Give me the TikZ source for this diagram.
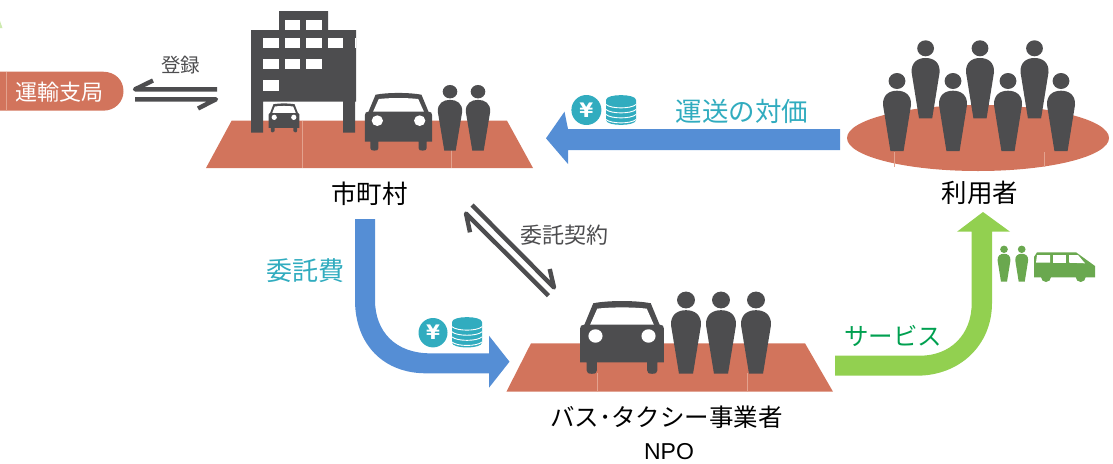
\documentclass[tikz,border=0pt]{standalone}
\usepackage{fontspec}
\setmainfont{Noto Sans CJK JP}
\newfontfamily\latinfont{Liberation Sans}
\newfontfamily\yenfont{DejaVu Sans}
\definecolor{plat}{HTML}{D2745C}
\definecolor{seam}{HTML}{E3A28E}
\definecolor{dark}{HTML}{4D4D4F}
\definecolor{blueA}{HTML}{558ED5}
\definecolor{teal}{HTML}{31ACBF}
\definecolor{greenA}{HTML}{92D050}
\definecolor{greenB}{HTML}{6AA84F}
\definecolor{greenT}{HTML}{00A050}
\newcommand{\fs}[1]{\fontsize{#1}{#1}\selectfont}
\tikzset{
  x=1pt,y=-1pt,
  lbl/.style={inner sep=0pt,text=black,font=\fs{25.5}},
  tealtext/.style={inner sep=0pt,text=teal,font=\fs{25.5}},
  greytext/.style={inner sep=0pt,text=dark,font=\fs{22}},
  seamline/.style={draw=seam,line width=1pt},
  halfarrow/.style={draw=dark,line width=4.4pt,line join=round},
  yenmark/.style={inner sep=0pt,text=white,font=\yenfont\bfseries\fs{20}},
  person/.pic={
    \fill[pic actions] (0,0) ellipse[x radius=8.4,y radius=8];
    \fill[pic actions] (-6.6,70) -- (-14,24) .. controls (-14.5,14) and (-8,9.7) .. (0,9.7)
      .. controls (8,9.7) and (14.5,14) .. (14,24) -- (6.6,70) -- cycle;
  },
  carpic/.pic={
    \fill[dark] (-95,67) .. controls (-95,60) and (-92,57) .. (-85,57) -- (-65,6)
      .. controls (-30,-1) and (30,-1) .. (65,6) -- (85,57)
      .. controls (92,57) and (95,60) .. (95,67) -- (95,147) -- (80,147) -- (80,166)
      .. controls (80,172) and (76,174) .. (68,174) .. controls (60,174) and (57,172) .. (57,166)
      -- (57,147) -- (-57,147) -- (-57,166)
      .. controls (-57,172) and (-60,174) .. (-68,174) .. controls (-76,174) and (-80,172) .. (-80,166)
      -- (-80,147) -- (-95,147) -- cycle;
    \fill[white] (-56,19) .. controls (-25,15) and (25,15) .. (56,19) -- (72,57) -- (-72,57) -- cycle;
    \fill[white] (-60,84) circle[radius=16];
    \fill[white] (60,84) circle[radius=16];
  },
  coins/.pic={
    \fill[teal] (-15,5) .. controls (-15,-1.5) and (15,-1.5) .. (15,5) -- (15,25)
      .. controls (15,31.5) and (-15,31.5) .. (-15,25) -- cycle;
    \foreach \yy in {11,16,21,26}{
      \draw[white,line width=.9pt] (-15,\yy-1.5) .. controls (-10,\yy+3) and (10,\yy+3) .. (15,\yy-1.5);
    }
  }
}
\begin{document}
\begin{tikzpicture}
\useasboundingbox (0,0) rectangle (1113,463);
% stray corner
\fill[greenA!45] (0,21) -- (2.5,28) -- (0,28) -- cycle;

% platforms
\fill[plat] (231.6,120.7) -- (507,120.7) -- (533,168) -- (206,168) -- cycle;
\draw[seamline] (302.5,120.7) -- (302.5,168);
\draw[seamline] (451.6,150) -- (451.6,168);
\fill[plat] (531,343.3) -- (805,343.3) -- (833,391.7) -- (506.4,391.7) -- cycle;
\draw[seamline] (597.5,373) -- (597.5,391.7);
\draw[seamline] (747.5,373) -- (747.5,391.7);
\fill[plat] (978,138) ellipse[x radius=131,y radius=33];
\draw[draw=seam,line width=.8pt] (894.5,152) -- (894.5,167);
\draw[draw=seam,line width=.8pt] (1044,152) -- (1044,167);

% pill
\fill[plat] (-6,71.7) -- (103,71.7) .. controls (115,71.7) and (123.5,80) .. (123.5,91.2)
  .. controls (123.5,102) and (115,110.7) .. (103,110.7) -- (-6,110.7) -- cycle;
\draw[seamline] (6,72) -- (6,110.5);
\node[inner sep=0pt,text=white,font=\fs{22}] (unyu) at (59,92) {運輸支局};
\node[greytext,font=\fs{19.5}] (toroku) at (180.7,65) {登録};

% half arrows
\coordinate (hA1) at (217,89.3); \coordinate (hA2) at (135,89.3); \coordinate (hA3) at (153,80.5);
\coordinate (hB1) at (135,99.3); \coordinate (hB2) at (216,99.3); \coordinate (hB3) at (198,108.5);
\draw[halfarrow] (hA1) -- (hA2) -- (hA3);
\draw[halfarrow] (hB1) -- (hB2) -- (hB3);

% building
\fill[dark]
  (279,11) -- (328,11) -- (328,30) -- (356,30) -- (356,101.7) -- (355,101.7) -- (355,132.7) -- (343,132.7)
  -- (343,101.7) -- (263,101.7) -- (263,132.7) -- (251,132.7) -- (251,30) -- (279,30) -- cycle;
\foreach \xa/\xb/\ya/\yb in {285.3/300/20/30, 306/322/20/30,
  263/279/37.7/47.7, 285.3/300/37.7/47.7, 306/322/37.7/47.7, 328/343/37.7/47.7, 355/356/37.7/47.7,
  263/279/59/69, 285.3/300/59/69, 306/322/59/69,
  263/279/80/90.7}{
  \fill[white] (\xa,\ya) rectangle (\xb,\yb);
}
\pic[xscale=.163,yscale=.167] at (284,103.3) {carpic};
\pic[xscale=.353,yscale=.333] at (398.5,92.7) {carpic};
\pic[fill=dark,xscale=.87,yscale=.84] at (450,91.7) {person};
\pic[fill=dark,xscale=.87,yscale=.84] at (478,91.7) {person};
\node[lbl] (city) at (369.5,193.3) {市町村};

% bottom group
\pic[xscale=.442,yscale=.42] at (622,300.7) {carpic};
\foreach \px in {686,721,756}{
  \pic[fill=dark,xscale=1.07,yscale=1.05] at (\px,300) {person};
}
\node[lbl,font=\fs{24.5}] (bus) at (666.5,417.3) {バス･タクシー事業者};
\node[lbl,font=\latinfont\fs{23}] (npo) at (669,451.7) {NPO};

% users
\foreach \px in {925.6,980,1034.5}{
  \pic[fill=dark] at (\px,48.3) {person};
}
\foreach \px in {897,953,1008,1061}{
  \pic[fill=dark] at (\px,81) {person};
}
\node[lbl] (users) at (980,193.3) {利用者};

% blue top arrow
\fill[blueA] (840,129) -- (568,129) -- (564.5,111.7) -- (546,138.3) -- (568,164) -- (568,150) -- (840,150) -- cycle;
\fill[teal] (586.4,110) circle[radius=15];
\node[yenmark] (yenA) at (586.4,110) {¥};
\pic at (621,95) {coins};
\node[tealtext,font=\fs{26.5}] (fare) at (742,111.7) {運送の対価};

% blue curved arrow
\fill[blueA] (355,219) -- (375,219) -- (375,300) .. controls (375,332) and (396,353.3) .. (430,353.3)
  -- (489,353.3) -- (489,335.7) -- (509.5,361.7) -- (489,387.7) -- (489,373.3) -- (426,373.3)
  .. controls (384,373.3) and (355,345) .. (355,300) -- cycle;
\fill[teal] (433,332.7) ellipse[x radius=14.5,y radius=14.7];
\node[yenmark] (yenB) at (433,332.7) {¥};
\pic[yscale=1.02] at (467,317) {coins};
\node[tealtext,font=\fs{26}] (fee) at (305.5,271) {委託費};

% diagonal contract arrows
\coordinate (dA1) at (548.5,295.7); \coordinate (dA2) at (466,213.5); \coordinate (dA3) at (470,232.3);
\coordinate (dB1) at (472,205); \coordinate (dB2) at (554,287.5); \coordinate (dB3) at (549.7,269);
\draw[halfarrow] (dA1) -- (dA2) -- (dA3);
\draw[halfarrow] (dB1) -- (dB2) -- (dB3);
\node[greytext] (contract) at (564,235) {委託契約};

% green arrow
\fill[greenA] (835,355.7) -- (920,355.7) .. controls (950,355.7) and (971.7,335) .. (971.7,303)
  -- (971.7,231.7) -- (957,231.7) -- (983,212) -- (1010,231.7) -- (992,231.7) -- (992,303)
  .. controls (992,345) and (960,375.7) .. (916.7,375.7) -- (835,375.7) -- cycle;
\node[inner sep=0pt,text=greenT,font=\fs{24.5}] (service) at (893,336) {サービス};
\pic[fill=greenB,scale=.46] at (1004,249.3) {person};
\pic[fill=greenB,scale=.46] at (1021.7,249.3) {person};
% van
\fill[greenB] (1037,252.3) -- (1076,252.3) -- (1095,266) -- (1095,277.3) -- (1034,277.3) -- (1034,257) -- cycle;
\fill[greenB] (1046,277) circle[radius=5];
\fill[greenB] (1080.7,277) circle[radius=5];
\fill[white] (1037,255) -- (1050,255) -- (1050,262.7) -- (1036,262.7) -- cycle;
\fill[white] (1053,255) -- (1066,255) -- (1066,262.7) -- (1053,262.7) -- cycle;
\fill[white] (1069,255) -- (1078,255) -- (1085,263.3) -- (1069,262.7) -- cycle;
\end{tikzpicture}
\end{document}
